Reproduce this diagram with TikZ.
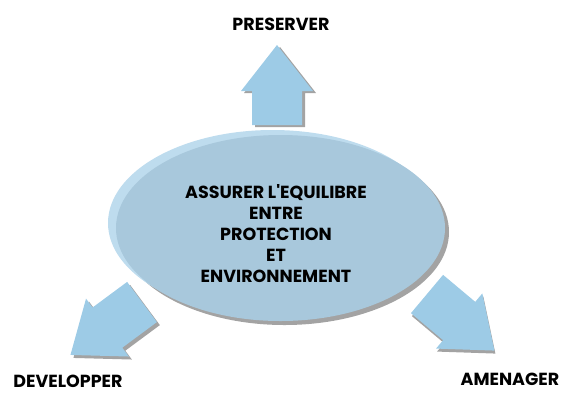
\documentclass[tikz,border=0pt]{standalone}
\usepackage{fontspec}
\setmainfont{Poppins}
\usepackage{tikz}
\usetikzlibrary{shapes.geometric}
\definecolor{bleuciel}{HTML}{9DCBE6}
\definecolor{bleubulle}{HTML}{A8C8DC}
\definecolor{bleureflet}{HTML}{BEDCEE}
\definecolor{grisombre}{HTML}{A3A3A3}
\tikzset{
    %Define style for the central ellipse
    bulle/.style={
           ellipse,
           minimum width=329pt,
           minimum height=186pt,
           inner sep=0pt},
    %Define style for the texts
    etiquette/.style={
           font=\bfseries\fontsize{17.5}{21}\selectfont,
           align=center,
           inner sep=0pt},
    %Define block arrow (tail at origin, pointing along x)
    fleche/.pic={
           \path[pic actions] (0,-25) -- (#1-46,-25) -- (#1-46,-36)
               -- (#1,0) -- (#1-46,36) -- (#1-46,25) -- (0,25) -- cycle;}
}

\begin{document}
\begin{tikzpicture}[x=1pt, y=-1pt]
  \useasboundingbox (0,0) rectangle (561,392);
  % arrows with their shadow
  \pic[fill=grisombre, rotate=90] at (280,127) {fleche=80};
  \pic[fill=bleuciel, rotate=90] (haut) at (277,125) {fleche=80};
  \pic[fill=grisombre, rotate=216.5] at (145,305) {fleche=89};
  \pic[fill=bleuciel, rotate=216.5] (gauche) at (142,302) {fleche=89};
  \pic[fill=grisombre, rotate=-40] at (428,297) {fleche=88};
  \pic[fill=bleuciel, rotate=-40] (droite) at (427,294) {fleche=88};
  % ellipse
  \node[bulle, fill=grisombre] (ombre) at (284.5,232) {};
  \node[bulle, fill=bleureflet] (reflet) at (272.5,223) {};
  \node[bulle, fill=bleubulle] (bulle) at (280.5,228) {};
  \node[etiquette] (theme) at (276,234)
    {ASSURER L\textquotesingle EQUILIBRE\\ENTRE\\PROTECTION\\ET\\ENVIRONNEMENT};
  \node[etiquette] (preserver) at (281,24) {PRESERVER};
  \node[etiquette] (developper) at (68,381) {DEVELOPPER};
  \node[etiquette] (amenager) at (510,379) {AMENAGER};
\end{tikzpicture}
\end{document}
